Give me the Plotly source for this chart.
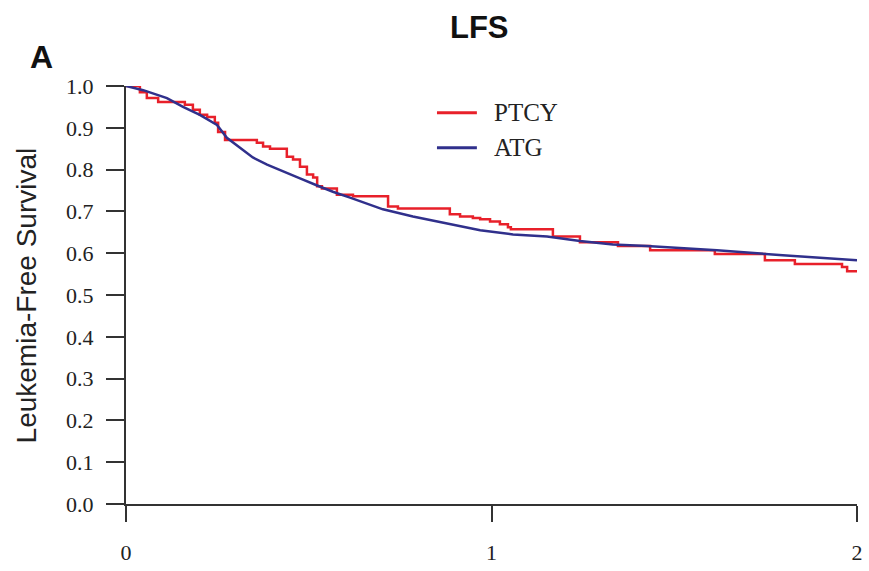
import plotly.graph_objects as go

# Kaplan-Meier estimates of leukemia-free survival (time in years)
ptcy_time = [0, 0.038, 0.057, 0.088, 0.161, 0.183, 0.202, 0.222, 0.243, 0.252,
             0.271, 0.358, 0.375, 0.394, 0.440, 0.457, 0.476, 0.495, 0.512, 0.523,
             0.536, 0.577, 0.621, 0.717, 0.744, 0.886, 0.914, 0.949, 0.969, 0.996,
             1.023, 1.045, 1.053, 1.168, 1.242, 1.346, 1.434, 1.611, 1.748, 1.830,
             1.959, 1.973, 2.0]
ptcy_surv = [1.0, 0.985, 0.971, 0.962, 0.955, 0.943, 0.931, 0.926, 0.912, 0.890,
             0.871, 0.864, 0.855, 0.850, 0.831, 0.824, 0.807, 0.788, 0.781, 0.760,
             0.755, 0.740, 0.736, 0.712, 0.707, 0.693, 0.688, 0.684, 0.681, 0.676,
             0.669, 0.662, 0.657, 0.640, 0.626, 0.617, 0.607, 0.598, 0.583, 0.574,
             0.567, 0.557, 0.555]

atg_time = [0, 0.047, 0.112, 0.156, 0.202, 0.249, 0.276, 0.312, 0.347, 0.386,
            0.430, 0.476, 0.523, 0.566, 0.613, 0.659, 0.703, 0.785, 0.878, 0.969,
            1.059, 1.152, 1.242, 1.332, 1.425, 1.617, 1.797, 2.0]
atg_surv = [1.0, 0.990, 0.971, 0.950, 0.931, 0.907, 0.876, 0.852, 0.829, 0.812,
            0.795, 0.779, 0.762, 0.747, 0.733, 0.719, 0.705, 0.688, 0.671, 0.655,
            0.645, 0.640, 0.629, 0.621, 0.617, 0.607, 0.595, 0.583]

group_names = ["PTCY", "ATG"]
group_colors = ["#e8202a", "#30308c"]

x_ticks = [0, 1, 2]
y_ticks = [round(v * 0.1, 1) for v in range(11)]

fig = go.Figure()
fig.add_trace(go.Scatter(x=ptcy_time, y=ptcy_surv, mode="lines", name=group_names[0],
                         line=dict(color=group_colors[0], width=2.5, shape="hv"),
                         showlegend=False))
fig.add_trace(go.Scatter(x=atg_time, y=atg_surv, mode="lines", name=group_names[1],
                         line=dict(color=group_colors[1], width=2.5),
                         showlegend=False))

serif = "Liberation Serif"
sans = "Liberation Sans"

# Legend drawn as short line swatches with labels
leg_y = [0.936, 0.852]
for name, color, yy in zip(group_names, group_colors, leg_y):
    fig.add_shape(type="line", xref="paper", yref="paper",
                  x0=0.4254, x1=0.480, y0=yy, y1=yy,
                  line=dict(color=color, width=3))
    fig.add_annotation(x=0.5007, y=yy, xref="paper", yref="paper", text=name,
                       showarrow=False, xanchor="left", yanchor="middle",
                       font=dict(family=serif, size=25, color="#222222"))

fig.add_annotation(x=0.484, y=1.140, xref="paper", yref="paper", text="<b>LFS</b>",
                   showarrow=False, xanchor="center", yanchor="middle",
                   font=dict(family=sans, size=31, color="#111111"))
fig.add_annotation(x=-0.116, y=1.069, xref="paper", yref="paper", text="<b>A</b>",
                   showarrow=False, xanchor="center", yanchor="middle",
                   font=dict(family=sans, size=32, color="#111111"))
fig.add_annotation(x=-0.136, y=0.498, xref="paper", yref="paper",
                   text="Leukemia-Free Survival", textangle=-90,
                   showarrow=False, xanchor="center", yanchor="middle",
                   font=dict(family=sans, size=28, color="#222222"))

fig.update_layout(
    width=869, height=571,
    margin=dict(l=126, r=6, t=86, b=52),
    paper_bgcolor="white", plot_bgcolor="white",
    xaxis=dict(range=[0, 2], tickvals=x_ticks, ticktext=[str(v) for v in x_ticks],
               showgrid=False, zeroline=False, showline=True, linecolor="#333333",
               linewidth=2, ticks="outside", ticklen=16, tickwidth=2,
               tickcolor="#333333", ticklabelstandoff=12,
               tickfont=dict(family=serif, size=22, color="#222222")),
    yaxis=dict(range=[0, 1], tickvals=y_ticks, ticktext=[f"{v:.1f}" for v in y_ticks],
               showgrid=False, zeroline=False, showline=True, linecolor="#333333",
               linewidth=2, ticks="outside", ticklen=18, tickwidth=2,
               tickcolor="#333333", ticklabelstandoff=8,
               tickfont=dict(family=serif, size=22, color="#222222")),
)

fig.write_html("out.html")
